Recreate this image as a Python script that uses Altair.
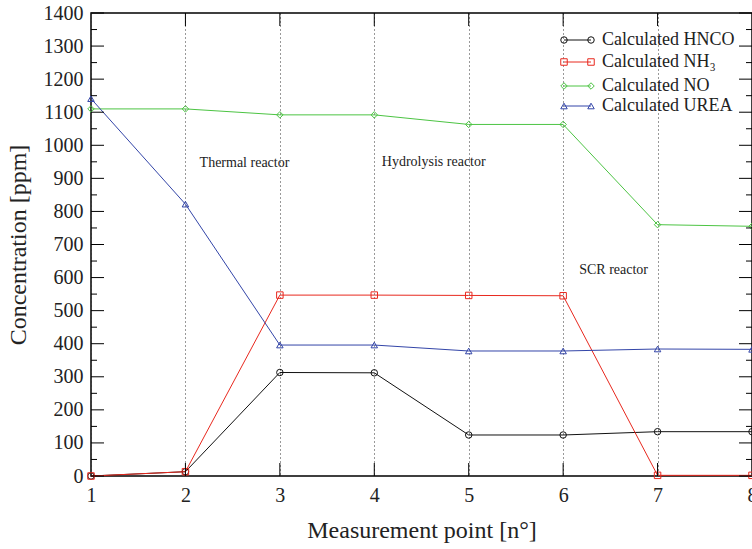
import altair as alt
import pandas as pd

# Measurement points along the exhaust line
points = [1, 2, 3, 4, 5, 6, 7, 8]

# Calculated concentrations [ppm] at each point
hnco = [0, 13, 313, 312, 124, 124, 134, 134]
nh3 = [0, 13, 547, 547, 546, 545, 2, 2]
no = [1110, 1110, 1092, 1092, 1063, 1063, 760, 755]
urea = [1141, 822, 396, 396, 378, 378, 384, 383]

series_names = ["Calculated HNCO", "Calculated NH₃", "Calculated NO", "Calculated UREA"]
series_values = [hnco, nh3, no, urea]
series_colors = ["#111111", "#e8281e", "#4cc443", "#3345a8"]
series_shapes = ["circle", "square", "diamond", "triangle-up"]

# Reactor labels and their anchor positions (data units)
reactor_labels = ["Thermal reactor", "Hydrolysis reactor", "SCR reactor"]
reactor_x = [2.15, 4.08, 6.17]
reactor_y = [946, 950, 623]

y_major = list(range(0, 1401, 100))
y_minor = list(range(50, 1400, 100))
x_inner = [2, 3, 4, 5, 6, 7]

W, H = 661, 463
FONT = "Liberation Serif"

rows = []
for name, vals in zip(series_names, series_values):
    for p, v in zip(points, vals):
        rows.append({"point": p, "value": v, "series": name})
df = pd.DataFrame(rows)

x_scale = alt.Scale(domain=[1, 8], nice=False, zero=False)
y_scale = alt.Scale(domain=[0, 1400], nice=False)
color_scale = alt.Scale(domain=series_names, range=series_colors)
shape_scale = alt.Scale(domain=series_names, range=series_shapes)

x_axis = alt.Axis(
    values=points, format="d", tickSize=0, domain=False,
    grid=True, gridDash=[1, 3], gridColor="#333333", gridWidth=1,
    labelFont=FONT, labelFontSize=20, labelColor="#222222", labelPadding=9,
    labelFlush=False, labelOverlap=False, labelBound=False,
    title="Measurement point [n°]", titleFont=FONT, titleFontSize=24,
    titleFontWeight="normal", titleColor="#222222", titlePadding=13,
)
y_axis = alt.Axis(
    values=y_major, format="d", tickSize=0, domain=False, grid=False,
    labelFont=FONT, labelFontSize=20, labelColor="#222222", labelPadding=8,
    labelFlush=False, labelOverlap=False, labelBound=False,
    title="Concentration [ppm]", titleFont=FONT, titleFontSize=24,
    titleFontWeight="normal", titleColor="#222222", titlePadding=13,
)


def xq(field):
    return alt.X(field, scale=x_scale, axis=x_axis)


def yq(field):
    return alt.Y(field, scale=y_scale, axis=y_axis)


base = alt.Chart(df)
lines = base.mark_line(strokeWidth=1).encode(
    x=xq("point:Q"), y=yq("value:Q"),
    color=alt.Color("series:N", scale=color_scale, legend=None),
    detail="series:N",
)
markers = base.mark_point(filled=False, size=42, strokeWidth=1, opacity=1).encode(
    x=xq("point:Q"),
    y=yq("value:Q"),
    color=alt.Color("series:N", scale=color_scale, legend=None),
    shape=alt.Shape("series:N", scale=shape_scale, legend=None),
)

# Inward-pointing frame ticks
ymaj = alt.Chart(pd.DataFrame({"v": y_major}))
ymin = alt.Chart(pd.DataFrame({"v": y_minor}))
xin = alt.Chart(pd.DataFrame({"p": x_inner}))
tick_layers = [
    ymaj.mark_rule(color="black", strokeWidth=1).encode(
        y=yq("v:Q"), x=alt.value(0), x2=alt.value(13)),
    ymin.mark_rule(color="black", strokeWidth=1).encode(
        y=yq("v:Q"), x=alt.value(0), x2=alt.value(6)),
    ymaj.mark_rule(color="black", strokeWidth=1).encode(
        y=yq("v:Q"), x=alt.value(W - 13), x2=alt.value(W)),
    ymin.mark_rule(color="black", strokeWidth=1).encode(
        y=yq("v:Q"), x=alt.value(W - 6), x2=alt.value(W)),
    xin.mark_rule(color="black", strokeWidth=1).encode(
        x=xq("p:Q"), y=alt.value(H), y2=alt.value(H - 13)),
    xin.mark_rule(color="black", strokeWidth=1).encode(
        x=xq("p:Q"), y=alt.value(0), y2=alt.value(13)),
]

labels = alt.Chart(pd.DataFrame({"x": reactor_x, "y": reactor_y, "t": reactor_labels})).mark_text(
    align="left", baseline="middle", font=FONT, fontSize=14, color="#222222"
).encode(
    x=xq("x:Q"),
    y=yq("y:Q"),
    text="t:N",
)

# Legend block in the upper right corner
legend_rows_y = [27, 49, 73, 93]
lx0, lx1, ltx = 473, 500, 511
legend_layers = []
for name, col, shp, ly in zip(series_names, series_colors, series_shapes, legend_rows_y):
    one = alt.Chart(pd.DataFrame({"series": [name]}))
    legend_layers.append(one.mark_rule(color=col, strokeWidth=1).encode(
        x=alt.value(lx0), x2=alt.value(lx1), y=alt.value(ly)))
    for px in (lx0, lx1):
        legend_layers.append(one.mark_point(
            filled=False, size=42, strokeWidth=1, color=col, shape=shp, opacity=1
        ).encode(x=alt.value(px), y=alt.value(ly)))
    legend_layers.append(one.mark_text(
        align="left", baseline="middle", font=FONT, fontSize=18, color="#222222"
    ).encode(x=alt.value(ltx), y=alt.value(ly), text="series:N"))

chart = alt.layer(lines, markers, *tick_layers, labels, *legend_layers).properties(
    width=W,
    height=H,
    autosize=alt.AutoSizeParams(type="none"),
    padding={"left": 91, "top": 13, "right": 0, "bottom": 73},
    background="white",
).configure_view(stroke="black", strokeWidth=1.5)

chart.save("out.html", embed_options={"renderer": "svg", "actions": False})
